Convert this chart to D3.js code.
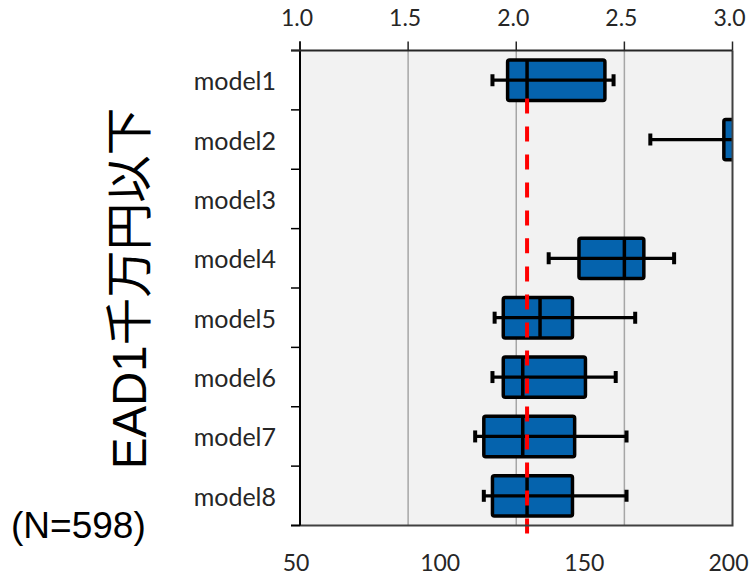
<!DOCTYPE html>
<html>
<head>
<meta charset="utf-8">
<script src="https://cdn.jsdelivr.net/npm/d3@7"></script>
<style>
  html, body { margin: 0; padding: 0; background: #fff; }
  svg { display: block; }
</style>
</head>
<body>
<svg id="chart" width="751" height="576"></svg>
<script>
// Model names (one row each)
const models = ["model1", "model2", "model3", "model4", "model5", "model6", "model7", "model8"];
// Box-plot statistics on the ratio scale (null = no data)
const whiskerLow  = [1.89, 2.62, null, 2.15, 1.90, 1.89, 1.81, 1.85];
const quartile1   = [1.96, 2.96, null, 2.29, 1.94, 1.94, 1.85, 1.89];
const medians     = [2.05, 3.10, null, 2.50, 2.11, 2.03, 2.03, 2.05];
const quartile3   = [2.41, 3.25, null, 2.59, 2.26, 2.32, 2.27, 2.26];
const whiskerHigh = [2.45, 3.40, null, 2.73, 2.55, 2.46, 2.51, 2.51];
// Reference value drawn as a dashed red line
const referenceValue = 2.05;
// Axis ticks
const topTicks = [1.0, 1.5, 2.0, 2.5, 3.0];
const bottomTicks = [50, 100, 150, 200];
const gridTicks = [1.5, 2.0, 2.5];
const titleText = "EAD1千万円以下";
const noteText = "(N=598)";

const svg = d3.select("#chart");
const plot = { left: 300, right: 732.5, top: 50.5, bottom: 525.5 };

const x = d3.scaleLinear().domain([1, 3]).range([plot.left, plot.right]);
const xBottom = d3.scaleLinear().domain([50, 200]).range([plot.left, plot.right]);
const y = d3.scaleBand().domain(models).range([plot.top, plot.bottom])
  .paddingInner(0.32).paddingOuter(0.16);

const rows = models.map((m, i) => ({
  name: m, lo: whiskerLow[i], q1: quartile1[i], med: medians[i], q3: quartile3[i], hi: whiskerHigh[i]
})).filter(d => d.med !== null);

// Plot background
svg.append("rect")
  .attr("x", plot.left).attr("y", plot.top)
  .attr("width", plot.right - plot.left).attr("height", plot.bottom - plot.top)
  .attr("fill", "#f2f2f2");

svg.append("clipPath").attr("id", "plotClip")
  .append("rect")
  .attr("x", plot.left - 10).attr("y", plot.top - 5)
  .attr("width", plot.right - plot.left + 10).attr("height", plot.bottom - plot.top + 20);

// Vertical gridlines
svg.append("g").selectAll("line").data(gridTicks).join("line")
  .attr("x1", d => x(d)).attr("x2", d => x(d))
  .attr("y1", plot.top).attr("y2", plot.bottom)
  .attr("stroke", "#a6a6a6").attr("stroke-width", 1.5);

const boxes = svg.append("g").attr("clip-path", "url(#plotClip)");
const bw = y.bandwidth();

// Boxes
boxes.selectAll("rect.box").data(rows).join("rect")
  .attr("class", "box")
  .attr("x", d => x(d.q1)).attr("y", d => y(d.name))
  .attr("width", d => x(d.q3) - x(d.q1)).attr("height", bw)
  .attr("rx", 2)
  .attr("fill", "#0563ad").attr("stroke", "#000").attr("stroke-width", 3.5)
  .attr("stroke-linejoin", "round");

// Whisker lines through the box
boxes.selectAll("line.whisker").data(rows).join("line")
  .attr("class", "whisker")
  .attr("x1", d => x(d.lo)).attr("x2", d => x(d.hi))
  .attr("y1", d => y(d.name) + bw / 2).attr("y2", d => y(d.name) + bw / 2)
  .attr("stroke", "#000").attr("stroke-width", 3.2);

// Whisker caps
const caps = rows.flatMap(d => [{ name: d.name, v: d.lo }, { name: d.name, v: d.hi }]);
boxes.selectAll("line.cap").data(caps).join("line")
  .attr("class", "cap")
  .attr("x1", d => x(d.v)).attr("x2", d => x(d.v))
  .attr("y1", d => y(d.name) + bw / 2 - 6).attr("y2", d => y(d.name) + bw / 2 + 6)
  .attr("stroke", "#000").attr("stroke-width", 4);

// Medians
boxes.selectAll("line.median").data(rows).join("line")
  .attr("class", "median")
  .attr("x1", d => x(d.med)).attr("x2", d => x(d.med))
  .attr("y1", d => y(d.name)).attr("y2", d => y(d.name) + bw)
  .attr("stroke", "#000").attr("stroke-width", 3.5);

// Reference line
svg.append("line")
  .attr("x1", x(referenceValue)).attr("x2", x(referenceValue))
  .attr("y1", y(models[0]) + bw - 2).attr("y2", plot.bottom + 9)
  .attr("stroke", "#ff0000").attr("stroke-width", 4)
  .attr("stroke-dasharray", "15,13");

// Right and bottom frame
svg.append("path")
  .attr("d", `M${plot.right},${plot.top}V${plot.bottom}H${plot.left - 9}`)
  .attr("fill", "none").attr("stroke", "#404040").attr("stroke-width", 2);

// Left category axis
const yAxisG = svg.append("g");
yAxisG.append("line")
  .attr("x1", plot.left).attr("x2", plot.left)
  .attr("y1", plot.top - 9).attr("y2", plot.bottom)
  .attr("stroke", "#000").attr("stroke-width", 2);
const bandEdges = models.map(m => y(m) - y.step() * y.paddingInner() / 2).concat([plot.bottom]);
yAxisG.selectAll("line.tick").data(bandEdges).join("line")
  .attr("class", "tick")
  .attr("x1", plot.left - 9).attr("x2", plot.left)
  .attr("y1", d => d).attr("y2", d => d)
  .attr("stroke", "#000").attr("stroke-width", 1.5);
yAxisG.selectAll("text").data(models).join("text")
  .attr("x", plot.left - 24).attr("y", d => y(d) + bw / 2)
  .attr("text-anchor", "end").attr("dominant-baseline", "central")
  .attr("font-family", "Lato, 'Open Sans', sans-serif").attr("font-size", 25)
  .attr("fill", "#262626")
  .text(d => d);

// Top value axis
const topAxis = svg.append("g");
topAxis.append("line")
  .attr("x1", plot.left - 9).attr("x2", plot.right)
  .attr("y1", plot.top).attr("y2", plot.top)
  .attr("stroke", "#262626").attr("stroke-width", 2);
topAxis.selectAll("line.tick").data(topTicks).join("line")
  .attr("class", "tick")
  .attr("x1", d => x(d)).attr("x2", d => x(d))
  .attr("y1", plot.top - 9).attr("y2", plot.top)
  .attr("stroke", "#262626").attr("stroke-width", 1.5);
topAxis.selectAll("text").data(topTicks).join("text")
  .attr("x", d => x(d) - 3).attr("y", 17)
  .attr("text-anchor", "middle").attr("dominant-baseline", "central")
  .attr("font-family", "Lato, 'Open Sans', sans-serif").attr("font-size", 23)
  .attr("fill", "#262626")
  .text(d => d3.format(".1f")(d));

// Bottom axis labels
svg.append("g").selectAll("text").data(bottomTicks).join("text")
  .attr("x", d => xBottom(d) - 4).attr("y", 562)
  .attr("text-anchor", "middle").attr("dominant-baseline", "central")
  .attr("font-family", "Lato, 'Open Sans', sans-serif").attr("font-size", 23)
  .attr("fill", "#262626")
  .text(d => d);

// Row-group title (rotated)
svg.append("text")
  .attr("transform", "translate(129,288.5) rotate(-90)")
  .attr("text-anchor", "middle").attr("dominant-baseline", "central")
  .attr("font-family", "'Liberation Sans', 'Noto Sans CJK JP', sans-serif")
  .attr("font-size", 47.5).attr("fill", "#000")
  .text(titleText);

// Sample size note
svg.append("text")
  .attr("x", 11).attr("y", 525)
  .attr("dominant-baseline", "central")
  .attr("font-family", "'Liberation Sans', Arial, sans-serif")
  .attr("font-size", 37).attr("fill", "#000")
  .text(noteText);
</script>
</body>
</html>
